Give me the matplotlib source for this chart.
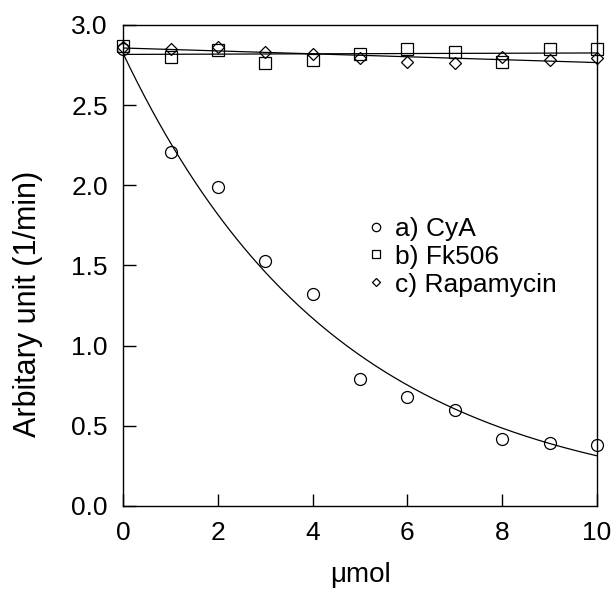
import numpy as np
import matplotlib
matplotlib.use("Agg")
import matplotlib.pyplot as plt

plt.rcParams['font.family'] = ['Liberation Sans', 'DejaVu Sans']

# Data
dose = [0, 1, 2, 3, 4, 5, 6, 7, 8, 9, 10]
cya = [2.85, 2.21, 1.99, 1.53, 1.32, 0.79, 0.68, 0.60, 0.42, 0.39, 0.38]
fk506 = [2.87, 2.80, 2.84, 2.76, 2.78, 2.82, 2.85, 2.83, 2.77, 2.85, 2.85]
rapamycin = [2.86, 2.85, 2.86, 2.83, 2.82, 2.79, 2.77, 2.76, 2.80, 2.78, 2.79]
labels = ["a) CyA", "b) Fk506", "c) Rapamycin"]

# exponential fit parameters for CyA
cya_a = 2.82
cya_k = 0.22

xticks = [0, 2, 4, 6, 8, 10]
yticks = [0.0, 0.5, 1.0, 1.5, 2.0, 2.5, 3.0]

fig = plt.figure(figsize=(6.16, 5.91), dpi=100)
ax = fig.add_axes([0.200, 0.144, 0.769, 0.814])

xs = np.linspace(0, 10, 200)
ax.plot(xs, cya_a * np.exp(-cya_k * xs), color='black', lw=0.9)
p_fk = np.polyfit(dose, fk506, 1)
p_ra = np.polyfit(dose, rapamycin, 1)
ax.plot(xs, np.polyval(p_fk, xs), color='black', lw=0.9)
ax.plot(xs, np.polyval(p_ra, xs), color='black', lw=0.9)

ax.plot(dose, cya, linestyle='none', marker='o', ms=8.6, mfc='none', mec='black', mew=0.9,
        label=labels[0], clip_on=False)
ax.plot(dose, fk506, linestyle='none', marker='s', ms=8.6, mfc='none', mec='black', mew=0.9,
        label=labels[1], clip_on=False)
ax.plot(dose, rapamycin, linestyle='none', marker='D', ms=6.5, mfc='none', mec='black', mew=0.9,
        label=labels[2], clip_on=False)

ax.set_xlim(0, 10)
ax.set_ylim(0, 3.0)
ax.set_xticks(xticks)
ax.set_yticks(yticks)
ax.set_xticklabels([str(v) for v in xticks])
ax.set_yticklabels([f"{v:.1f}" for v in yticks])
ax.tick_params(direction='in', length=9, width=1, labelsize=19, pad=11)
for s in ax.spines.values():
    s.set_linewidth(1.0)

ax.set_xlabel("μmol", fontsize=20, labelpad=12)
ax.set_ylabel("Arbitary unit (1/min)", fontsize=22)
ax.yaxis.set_label_coords(-0.17, 0.42)

leg = ax.legend(loc='center left', bbox_to_anchor=(0.49, 0.518), frameon=False,
                fontsize=19, handlelength=0.6, handletextpad=0.4, labelspacing=0.15,
                borderpad=0.0, markerscale=0.7)

fig.savefig("out.png", dpi=100)
